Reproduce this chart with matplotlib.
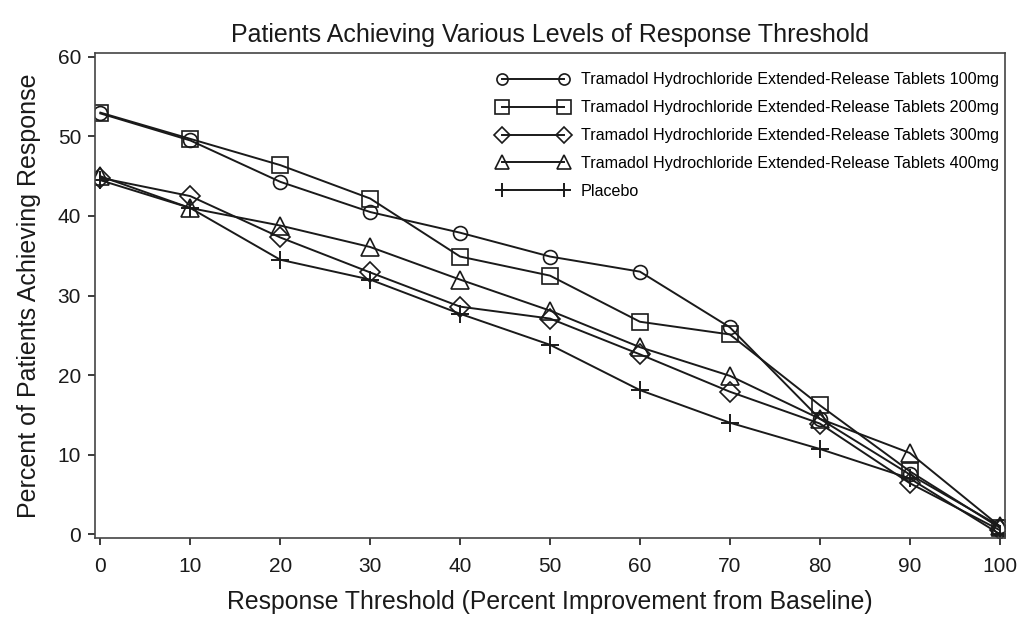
import numpy as np
import matplotlib.pyplot as plt

plt.rcParams['font.family'] = ['Liberation Sans', 'DejaVu Sans']

thresholds = [0, 10, 20, 30, 40, 50, 60, 70, 80, 90, 100]

mg100 = [52.9, 49.5, 44.3, 40.5, 37.9, 34.9, 33.0, 26.0, 14.5, 7.5, 1.0]
mg200 = [53.0, 49.7, 46.4, 42.2, 34.9, 32.5, 26.7, 25.1, 16.2, 7.9, 0.8]
mg300 = [44.8, 42.5, 37.3, 32.9, 28.6, 27.1, 22.6, 17.9, 13.9, 6.4, 0.5]
mg400 = [45.0, 41.0, 38.8, 36.1, 32.0, 28.1, 23.5, 19.9, 14.5, 10.2, 1.0]
placebo = [44.5, 41.0, 34.5, 32.0, 27.7, 23.8, 18.1, 14.0, 10.7, 7.0, 0.0]

labels = ['Tramadol Hydrochloride Extended-Release Tablets 100mg',
          'Tramadol Hydrochloride Extended-Release Tablets 200mg',
          'Tramadol Hydrochloride Extended-Release Tablets 300mg',
          'Tramadol Hydrochloride Extended-Release Tablets 400mg',
          'Placebo']

fig = plt.figure(figsize=(10.2, 6.24), dpi=100)
ax = fig.add_axes([95/1020, 1 - 538/624, 910/1020, 485/624])

col = '#1a1a1a'
ax.plot(thresholds, mg100, color=col, lw=1.4, marker='o', ms=10, mfc='none', mew=1.2, label=labels[0])
ax.plot(thresholds, mg200, color=col, lw=1.4, marker='s', ms=12, mfc='none', mew=1.2, label=labels[1])
ax.plot(thresholds, mg300, color=col, lw=1.4, marker='D', ms=10, mfc='none', mew=1.2, label=labels[2])
ax.plot(thresholds, mg400, color=col, lw=1.4, marker='^', ms=13, mfc='none', mew=1.2, label=labels[3])
ax.plot(thresholds, placebo, color=col, lw=1.4, marker='+', ms=13, mfc='none', mew=1.4, label=labels[4])

ax.set_xlim(-0.6, 100.6)
ax.set_ylim(-0.5, 60.5)
ax.set_xticks(thresholds)
ax.set_yticks([0, 10, 20, 30, 40, 50, 60])
ax.tick_params(direction='out', length=5, width=1.2, labelsize=15, colors=col)
ax.tick_params(axis='x', pad=9)
ax.tick_params(axis='y', pad=5)
for s in ax.spines.values():
    s.set_color('#444444')
    s.set_linewidth(1.2)

ax.set_title('Patients Achieving Various Levels of Response Threshold', fontsize=18, color=col, pad=8)
ax.set_xlabel('Response Threshold (Percent Improvement from Baseline)', fontsize=17.8, color=col, labelpad=10)
ax.set_ylabel('Percent of Patients Achieving Response', fontsize=18, color=col, labelpad=12)

ax.legend(loc='upper right', bbox_to_anchor=(1.0, 1 - 13/485), frameon=False, numpoints=2,
          fontsize=11.6, markerscale=0.8, handlelength=4.4, handletextpad=0.75,
          labelspacing=0.8, borderaxespad=0)

plt.savefig('out.png', dpi=100)
